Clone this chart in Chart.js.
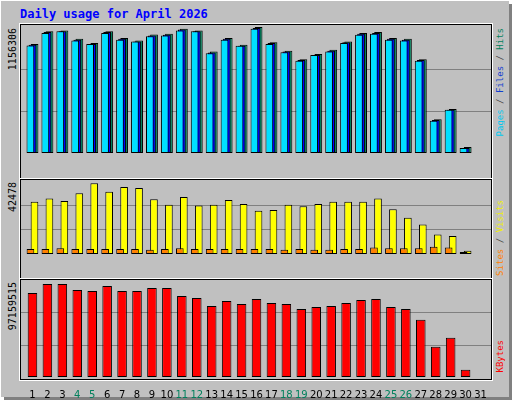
<!DOCTYPE html>
<html><head><meta charset="utf-8">
<script src="https://cdn.jsdelivr.net/npm/chart.js@4"></script>
<style>
html,body{margin:0;padding:0;background:#fff}
#frame{position:absolute;left:0;top:0;width:508px;height:396px;background:#c0c0c0;border-top:1px solid #fff;border-left:1px solid #fff;box-shadow:4px 4px 0 #808080}
.panel{position:absolute;left:20px;width:470px;border:1px solid #000;box-shadow:0 0 0 1px #fff}
.wrap{position:absolute;left:21px;width:470px}
.vl{position:absolute;writing-mode:vertical-rl;transform:rotate(180deg);font-family:"DejaVu Sans Mono",monospace;white-space:nowrap;line-height:1}
#title{position:absolute;left:20px;top:7px;font:bold 12px "DejaVu Sans Mono",monospace;color:#0000ff}
</style></head><body>
<div id="frame"></div>
<div id="title">Daily usage for April 2026</div>
<div class="panel" style="top:24px;height:153px"></div>
<div class="panel" style="top:179px;height:98px"></div>
<div class="panel" style="top:279px;height:99px"></div>
<div class="wrap" style="top:25px;height:151px"><canvas id="c1"></canvas></div>
<div class="wrap" style="top:180px;height:97px"><canvas id="c2"></canvas></div>
<div class="wrap" style="top:280px;height:120px"><canvas id="c3"></canvas></div>
<div class="vl" style="left:8px;top:28px;font-size:10px;color:#000">1156306</div>
<div class="vl" style="left:8px;top:182px;font-size:10px;color:#000">42478</div>
<div class="vl" style="left:8px;top:282px;font-size:10px;color:#000">97159515</div>
<div class="vl" style="left:496px;top:28px;font-size:9px"><span style="color:#00c8f0">Pages</span><span style="color:#404040"> / </span><span style="color:#1040d0">Files</span><span style="color:#404040"> / </span><span style="color:#00805c">Hits</span></div>
<div class="vl" style="left:496px;top:200px;font-size:9px"><span style="color:#ff8000">Sites</span><span style="color:#404040"> / </span><span style="color:#f0f000">Visits</span></div>
<div class="vl" style="left:496px;top:340px;font-size:9px;color:#ff0000">KBytes</div>
<script>
const days = ["1","2","3","4","5","6","7","8","9","10","11","12","13","14","15","16","17","18","19","20","21","22","23","24","25","26","27","28","29","30","31"];
const weekendDays = ["4","5","11","12","18","19","25","26"];
const hits = [1001092,1117498,1125258,1047654,1008852,1117498,1055414,1032133,1086456,1094216,1140779,1125258,931248,1055414,993331,1156306,1016612,939008,861404,907967,946769,1024373,1101977,1109737,1055414,1047654,861404,310416,403541,54323,0];
const files = [993000,1110000,1117000,1040000,1001000,1110000,1048000,1024000,1079000,1086000,1133000,1118000,923000,1048000,985000,1148000,1009000,931000,854000,900000,939000,1017000,1094000,1102000,1048000,1040000,854000,303000,396000,47000,0];
const pages = [986000,1102000,1117000,1032000,1001000,1102000,1040000,1024000,1071000,1079000,1125000,1118000,916000,1040000,985000,1141000,1001000,924000,846000,900000,931000,1009000,1086000,1094000,1040000,1032000,846000,295000,396000,47000,0];
const visits = [30048,31805,30487,34880,40591,35759,38395,37956,31366,28291,32684,27852,28291,30927,28730,24777,25216,28291,27412,28730,30048,30048,30048,31805,25655,20823,16869,11158,10280,1933,0];
const sites = [2812,2812,3251,2812,2812,2812,2812,2812,2372,2812,3251,2812,2812,2812,2812,2812,2812,2372,2812,2372,2372,2812,2812,3690,3251,3251,3251,4129,3690,1186,0];
const kbytes = [84191600,93169400,93169400,87184200,86186700,91174300,86186700,86186700,89179300,89179300,81199000,79204000,71223700,76211400,73218800,78206400,74216300,73218800,68231100,70226200,71223700,74216300,77208900,78206400,70226200,68231100,57258300,30325000,39302700,7381700,0];
const maxHits = 1156306, maxVisits = 42478, maxKB = 97159515;

const gridPlugin = {id:'grid3',beforeDatasetsDraw(ch){
  const y=ch.scales.y, ctx=ch.ctx, mx=y.max;
  ctx.save();ctx.strokeStyle='#808080';ctx.lineWidth=1;
  [mx/3,2*mx/3].forEach(v=>{const p=Math.round(y.getPixelForValue(v))+0.5;ctx.beginPath();ctx.moveTo(0,p);ctx.lineTo(ch.width,p);ctx.stroke();});
  ctx.restore();}};

function mk(id, datasets, max, cat, bar, top, showX){
  return new Chart(document.getElementById(id),{type:'bar',
    data:{labels:days,datasets},
    plugins:[gridPlugin],
    options:{responsive:true,maintainAspectRatio:false,animation:false,devicePixelRatio:1,
      layout:{padding:{left:4,right:3,top:top,bottom:0}},
      plugins:{legend:{display:false},tooltip:{enabled:false}},
      datasets:{bar:{categoryPercentage:cat,barPercentage:bar,borderColor:'#000',borderWidth:1,borderSkipped:false}},
      scales:{
        x:{display:showX,offset:true,grid:{display:false},border:{display:false},
           ticks:{autoSkip:false,maxRotation:0,padding:4,font:{family:'DejaVu Sans',size:10},
             color:c=>weekendDays.includes(days[c.index])?'#00805c':'#000'},
           afterFit:s=>{s.height=23;}},
        y:{display:false,min:0,max:max}
      }}});
}
mk('c1',[
  {data:hits,backgroundColor:'#00805c',order:3},
  {data:files,backgroundColor:'#0000ff',order:2},
  {data:pages,backgroundColor:'#00e0ff',order:1}],maxHits,0.42,3.7,2,false);
mk('c2',[
  {data:visits,backgroundColor:'#ffff00',order:2},
  {data:sites,backgroundColor:'#ff8000',order:1}],maxVisits,0.54,1.9,0,false);
mk('c3',[{data:kbytes,backgroundColor:'#ff0000'}],maxKB,0.64,1,0,true);
</script>
</body></html>
